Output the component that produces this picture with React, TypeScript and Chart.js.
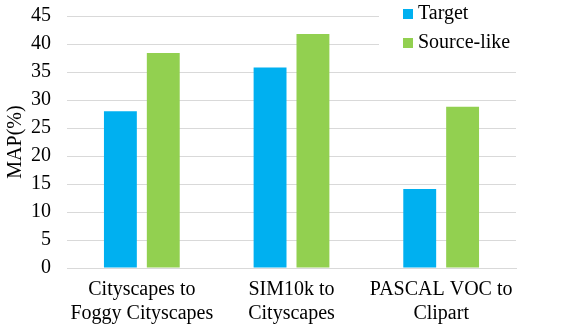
import React, { useEffect, useRef } from "react";
import { Chart, registerables } from "chart.js";

Chart.register(...registerables);

const categories: string[][] = [
  ["Cityscapes to", "Foggy Cityscapes"],
  ["SIM10k to", "Cityscapes"],
  ["PASCAL VOC to", "Clipart"],
];
const seriesNames = ["Target", "Source-like"];
const targetValues = [28.0, 35.8, 14.1];
const sourceLikeValues = [38.4, 41.8, 28.8];
const colors = ["#00B0F0", "#92D050"];
const yTicks = [0, 5, 10, 15, 20, 25, 30, 35, 40, 45];

const FONT = "'Liberation Serif', 'Times New Roman', serif";

const legendPlugin = {
  id: "customLegend",
  afterDraw(chart: any) {
    const ctx = chart.ctx;
    ctx.save();
    ctx.fillStyle = "#ffffff";
    ctx.fillRect(379, 2, 150, 56);
    ctx.font = `20px ${FONT}`;
    ctx.textBaseline = "middle";
    const ys = [14, 43];
    seriesNames.forEach((name, i) => {
      ctx.fillStyle = colors[i];
      ctx.fillRect(403, ys[i] - 5, 10, 10);
      ctx.fillStyle = "#000000";
      ctx.fillText(name, 418, ys[i]);
    });
    ctx.restore();
  },
};

export default function App() {
  const ref = useRef<HTMLCanvasElement>(null);
  useEffect(() => {
    document.body.style.margin = "0";
    const chart = new Chart(ref.current!, {
      type: "bar",
      data: {
        labels: categories,
        datasets: [
          { label: seriesNames[0], data: targetValues, backgroundColor: colors[0], categoryPercentage: 0.573, barPercentage: 0.767 },
          { label: seriesNames[1], data: sourceLikeValues, backgroundColor: colors[1], categoryPercentage: 0.573, barPercentage: 0.767 },
        ],
      },
      options: {
        animation: false,
        responsive: false,
        layout: { padding: { top: 16, right: 52, bottom: 0, left: 4 } },
        plugins: { legend: { display: false }, tooltip: { enabled: false } },
        scales: {
          x: {
            grid: { display: false, drawTicks: false },
            border: { display: true, color: "#d9d9d9" },
            ticks: { color: "#000", font: { family: FONT, size: 20 }, padding: 10, maxRotation: 0, autoSkip: false },
            afterFit: (axis: any) => {
              axis.height = 68;
              axis.paddingLeft = 0;
              axis.paddingRight = 0;
            },
          },
          y: {
            min: 0,
            max: 45,
            afterBuildTicks: (axis: any) => {
              axis.ticks = yTicks.map((v) => ({ value: v }));
            },
            grid: { color: "#d9d9d9", drawTicks: false },
            border: { display: false },
            ticks: { color: "#000", font: { family: FONT, size: 20 }, padding: 16, autoSkip: false },
            title: { display: true, text: "MAP(%)", color: "#000", font: { family: FONT, size: 20 }, padding: 0 },
            afterFit: (axis: any) => {
              axis.width = 63;
              axis.paddingTop = 0;
              axis.paddingBottom = 0;
            },
          },
        },
      },
      plugins: [legendPlugin],
    });
    return () => chart.destroy();
  }, []);
  return (
    <div style={{ width: 568, height: 336 }}>
      <canvas ref={ref} width={568} height={336} />
    </div>
  );
}
